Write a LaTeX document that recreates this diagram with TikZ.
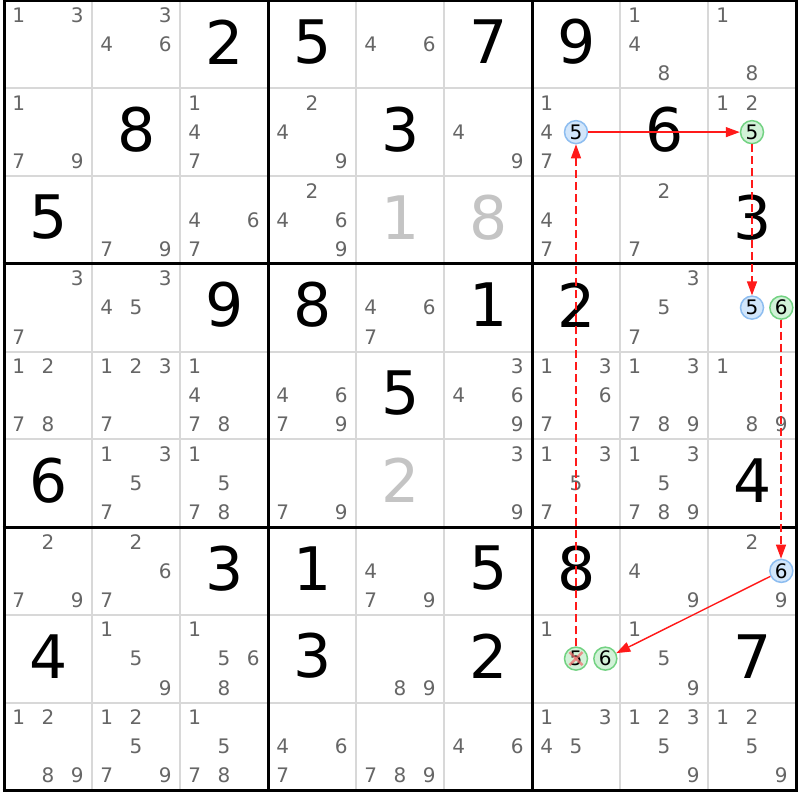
\documentclass[tikz,border=0pt]{standalone}
\usepackage{fontspec}
\setmainfont{DejaVu Sans}
\usetikzlibrary{arrows.meta}
\definecolor{candgray}{HTML}{666666}
\definecolor{solvedgray}{HTML}{C4C4C4}
\definecolor{thingrid}{HTML}{D8D8D8}
\definecolor{bluefill}{HTML}{D2E6FB}
\definecolor{bluedraw}{HTML}{8DBDF0}
\definecolor{greenfill}{HTML}{D2F2D8}
\definecolor{greendraw}{HTML}{72D282}
\definecolor{chainred}{HTML}{FF1A1A}
\definecolor{elimred}{HTML}{F07070}
\newcommand\gx{4}
\newcommand\gy{0.5}
\newcommand\cw{88}
\newcommand\ch{87.75}
\newcommand\placecand[5]{%
  \pgfmathsetmacro\subr{int((#4-1)/3)}%
  \pgfmathsetmacro\subc{int(mod(#4-1,3))}%
  \node[#1] (#5) at ({\gx+\cw*#3+\cw*(2*\subc+1)/6},{\gy+\ch*#2+\ch*(2*\subr+1)/6}) {#4};}
\tikzset{
  cand/.style={font=\fontsize{20}{20}\selectfont, text=candgray, inner sep=0pt},
  given/.style={font=\fontsize{60}{60}\selectfont, text=black, inner sep=0pt},
  solved/.style={given, text=solvedgray},
  candblue/.style={circle, minimum size=23pt, inner sep=0pt, draw=bluedraw, fill=bluefill, line width=1.5pt, font=\fontsize{20}{20}\selectfont, text=black},
  candgreen/.style={candblue, draw=greendraw, fill=greenfill},
  thinline/.style={draw=thingrid, line width=2pt},
  thickline/.style={draw=black, line width=3pt},
  chain/.style={draw=chainred, line width=1.4pt, -{Triangle[length=14pt,width=10pt]}},
  weaklink/.style={chain, dash pattern=on 8pt off 4pt},
  elim/.style={draw=elimred, line width=2.5pt, opacity=0.75}
}
\begin{document}
\begin{tikzpicture}[x=1pt,y=-1pt]
\useasboundingbox (0,0) rectangle (800,800);
\fill[white] (0,0) rectangle (800,800);
% grid
\foreach \i in {1,2,4,5,7,8}{
  \draw[thinline] ({\gx+\cw*\i},\gy) -- ({\gx+\cw*\i},{\gy+9*\ch});
  \draw[thinline] (\gx,{\gy+\ch*\i}) -- ({\gx+9*\cw},{\gy+\ch*\i});
}
\foreach \i in {0,3,6,9}{
  \draw[thickline] ({\gx+\cw*\i},{\gy-1.5}) -- ({\gx+\cw*\i},{\gy+9*\ch+1.5});
  \draw[thickline] ({\gx-1.5},{\gy+\ch*\i}) -- ({\gx+9*\cw+1.5},{\gy+\ch*\i});
}
% given digits
\foreach \rr/\cc/\g in {0/2/2, 0/3/5, 0/5/7, 0/6/9, 1/1/8, 1/4/3, 1/7/6, 2/0/5, 2/8/3,
  3/2/9, 3/3/8, 3/5/1, 3/6/2, 4/4/5, 5/0/6, 5/8/4, 6/2/3, 6/3/1, 6/5/5, 6/6/8,
  7/0/4, 7/3/3, 7/5/2, 7/8/7}{
  \node[given] (g-\rr-\cc) at ({\gx+\cw*(\cc+0.5)+0.5},{\gy+\ch*(\rr+0.5)-2.5}) {\g};
}
\foreach \rr/\cc/\g in {2/4/1, 2/5/8, 5/4/2}{
  \node[solved] (s-\rr-\cc) at ({\gx+\cw*(\cc+0.5)+0.5},{\gy+\ch*(\rr+0.5)-2.5}) {\g};
}
% candidates
\foreach \rr/\cc/\ds in {0/0/{1,3}, 0/1/{3,4,6}, 0/4/{4,6}, 0/7/{1,4,8}, 0/8/{1,8},
  1/0/{1,7,9}, 1/2/{1,4,7}, 1/3/{2,4,9}, 1/5/{4,9}, 1/6/{1,4,7}, 1/8/{1,2},
  2/1/{7,9}, 2/2/{4,6,7}, 2/3/{2,4,6,9}, 2/6/{4,7}, 2/7/{2,7},
  3/0/{3,7}, 3/1/{3,4,5}, 3/4/{4,6,7}, 3/7/{3,5,7},
  4/0/{1,2,7,8}, 4/1/{1,2,3,7}, 4/2/{1,4,7,8}, 4/3/{4,6,7,9}, 4/5/{3,4,6,9}, 4/6/{1,3,6,7}, 4/7/{1,3,7,8,9}, 4/8/{1,8,9},
  5/1/{1,3,5,7}, 5/2/{1,5,7,8}, 5/3/{7,9}, 5/5/{3,9}, 5/6/{1,3,5,7}, 5/7/{1,3,5,7,8,9},
  6/0/{2,7,9}, 6/1/{2,6,7}, 6/4/{4,7,9}, 6/7/{4,9}, 6/8/{2,9},
  7/1/{1,5,9}, 7/2/{1,5,6,8}, 7/4/{8,9}, 7/6/{1}, 7/7/{1,5,9},
  8/0/{1,2,8,9}, 8/1/{1,2,5,7,9}, 8/2/{1,5,7,8}, 8/3/{4,6,7}, 8/4/{7,8,9}, 8/5/{4,6}, 8/6/{1,3,4,5}, 8/7/{1,2,3,5,9}, 8/8/{1,2,5,9}}{
  \foreach \d in \ds {
    \placecand{cand}{\rr}{\cc}{\d}{n-\rr-\cc-\d}
  }
}
% highlighted candidates
\placecand{candblue}{1}{6}{5}{a165}
\placecand{candgreen}{1}{8}{5}{a185}
\placecand{candblue}{3}{8}{5}{a385}
\placecand{candgreen}{3}{8}{6}{a386}
\placecand{candblue}{6}{8}{6}{a686}
\placecand{candgreen}{7}{6}{5}{a765}
\placecand{candgreen}{7}{6}{6}{a766}
% elimination mark
\draw[elim] ([shift={(-6.5,-6.5)}]a765.center) -- ([shift={(6.5,6.5)}]a765.center);
\draw[elim] ([shift={(-6.5,6.5)}]a765.center) -- ([shift={(6.5,-6.5)}]a765.center);
% chain
\draw[weaklink] (a765) -- (a165);
\draw[chain] (a165) -- (a185);
\draw[weaklink] (a185) -- (a385);
\draw[weaklink] ([xshift=-0.33pt]a386.south) -- ([xshift=-0.33pt]a686.north);
\draw[chain] (a686) -- (a766);
\end{tikzpicture}
\end{document}
